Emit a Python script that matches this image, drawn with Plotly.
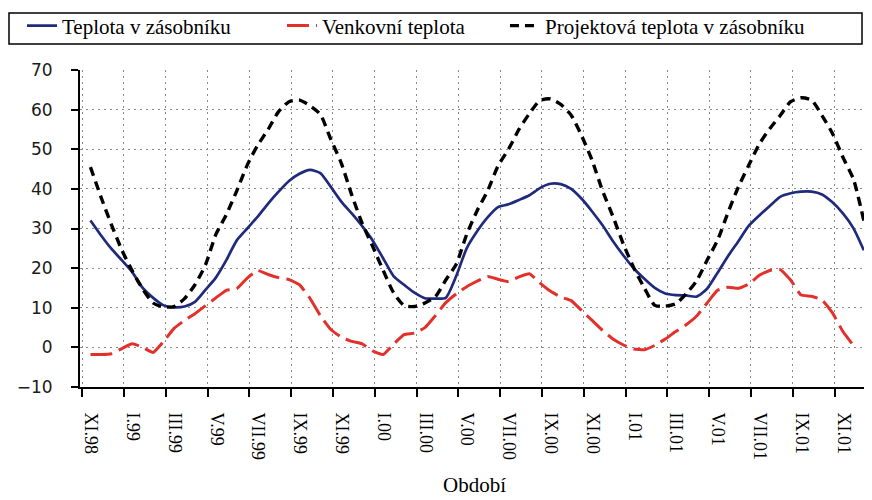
import plotly.graph_objects as go

# ---- data -------------------------------------------------------------
tick_months = [0, 2, 4, 6, 8, 10, 12, 14, 16, 18, 20, 22, 24, 26, 28, 30, 32, 34, 36]
tick_labels = ["XI.98", "I.99", "III.99", "V.99", "VII.99", "IX.99", "XI.99",
               "I.00", "III.00", "V.00", "VII.00", "IX.00", "XI.00",
               "I.01", "III.01", "V.01", "VII.01", "IX.01", "XI.01"]

# time in months since XI.98 (half-month samples)
months = [round(0.4 + 0.5 * k, 2) for k in range(75)]

teplota_zasobnik = [32.0, 28.3, 24.9, 22.0, 19.0, 15.0, 12.5, 10.6, 10.1, 10.3,
                    11.5, 14.5, 17.6, 22.0, 27.0, 30.0, 33.0, 36.3, 39.3, 42.0,
                    43.8, 44.8, 44.0, 40.5, 36.8, 33.8, 30.6, 27.0, 22.5, 18.0,
                    15.8, 13.8, 12.4, 12.3, 12.5, 18.0, 25.0, 29.3, 32.8, 35.4,
                    36.1, 37.2, 38.4, 40.2, 41.3, 41.2, 40.0, 37.5, 34.3, 30.8,
                    26.8, 23.2, 19.9, 17.3, 15.0, 13.6, 13.2, 13.1, 12.8, 14.8,
                    18.8, 23.0, 26.8, 30.7, 33.3, 35.7, 38.0, 38.9, 39.3, 39.3,
                    38.6, 36.6, 33.8, 30.1, 24.5]

venkovni_teplota = [-1.8, -1.8, -1.6, -0.3, 0.9, 0.0, -1.3, 1.5, 4.8, 6.8,
                    8.5, 10.5, 12.5, 14.4, 14.8, 17.5, 19.4, 18.4, 17.6, 17.1,
                    15.8, 12.4, 8.0, 4.5, 2.6, 1.5, 0.9, -0.9, -1.8, 0.8,
                    3.2, 3.6, 5.0, 8.0, 11.3, 13.5, 15.3, 16.7, 17.9, 17.2,
                    16.6, 17.8, 18.6, 16.3, 14.2, 12.7, 11.8, 9.3, 6.8, 4.3,
                    2.1, 0.6, -0.4, -0.6, 0.5, 2.1, 4.0, 5.7, 7.9, 11.2,
                    14.4, 15.2, 14.9, 16.0, 18.2, 19.4, 19.6, 17.0, 13.2, 12.9,
                    12.0, 8.7, 4.0, 0.5]

projektova_teplota = [45.5, 38.0, 31.0, 24.6, 19.3, 14.7, 11.2, 10.2, 10.3, 12.3,
                      15.8, 20.8, 28.5, 33.5, 39.5, 46.0, 51.0, 55.0, 59.5, 62.0,
                      62.4, 61.0, 58.8, 52.5, 46.5, 38.5, 31.3, 25.5, 19.5, 13.8,
                      10.6, 10.3, 11.2, 12.8, 17.0, 21.0, 28.5, 34.5, 39.5, 45.8,
                      50.0, 55.0, 59.0, 62.3, 62.7, 61.3, 58.6, 53.4, 47.2, 39.5,
                      33.0, 26.0, 20.0, 15.0, 10.6, 10.4, 11.0, 13.5, 16.8, 22.0,
                      27.0, 34.0, 40.5, 46.0, 51.3, 55.2, 58.5, 62.0, 63.0, 62.4,
                      58.5, 54.0, 48.0, 42.5, 32.0]

names = ["Teplota v zásobníku", "Venkovní teplota", "Projektová teplota v zásobníku"]

# ---- figure -----------------------------------------------------------
SERIF = "Liberation Serif"
SANS = "DejaVu Sans"

fig = go.Figure()
fig.add_trace(go.Scatter(
    x=months, y=teplota_zasobnik, name=names[0], mode="lines",
    line=dict(color="#1f2a7c", width=2.7, shape="spline", smoothing=0.6),
    legend="legend"))
fig.add_trace(go.Scatter(
    x=months[:len(venkovni_teplota)], y=venkovni_teplota, name=names[1], mode="lines",
    line=dict(color="#e3302b", width=3, dash="22px,7px", shape="spline", smoothing=0.4),
    legend="legend2"))
fig.add_trace(go.Scatter(
    x=months, y=projektova_teplota, name=names[2], mode="lines",
    line=dict(color="#000000", width=3.4, dash="9px,6px", shape="spline", smoothing=0.6),
    legend="legend3"))

grid = dict(showgrid=True, gridcolor="#8a8a8a", gridwidth=1.4, griddash="2px,4px")

# the page body adds an 8px offset; the figure is sized to fill the rest of the window
fig.update_layout(
    width=864, height=492,
    margin=dict(l=72, r=4, t=62, b=113, autoexpand=False),
    paper_bgcolor="white", plot_bgcolor="white",
    font=dict(family=SERIF, color="black"),
    xaxis=dict(
        range=[-0.1, 37.6], tickmode="array", tickvals=tick_months, ticktext=tick_labels,
        tickangle=90, tickfont=dict(family=SERIF, size=18, color="black"),
        showline=True, linecolor="black", linewidth=2,
        ticks="outside", ticklen=8, tickwidth=1.5, tickcolor="black",
        zeroline=False, ticklabelstandoff=12, ticklabelshift=9, automargin=False, **grid),
    yaxis=dict(
        range=[-10, 70], dtick=10, tick0=0,
        tickfont=dict(family=SANS, size=17, color="#1a1a1a"),
        showline=True, linecolor="black", linewidth=2,
        ticks="outside", ticklen=7, tickwidth=1.5, tickcolor="black",
        zeroline=False, ticklabelstandoff=15, automargin=False, **grid),
    showlegend=True,
)

leg_common = dict(orientation="h", yref="paper", y=1.139, yanchor="middle",
                  xanchor="left", bgcolor="rgba(0,0,0,0)", borderwidth=0,
                  font=dict(family=SERIF, size=21, color="black"))
fig.update_layout(
    legend=dict(x=-0.0736, **leg_common),
    legend2=dict(x=0.2563, **leg_common),
    legend3=dict(x=0.5393, **leg_common),
)

# legend frame
fig.add_shape(type="rect", xref="paper", yref="paper",
              x0=-0.0901, x1=0.9924, y0=1.082, y1=1.180,
              line=dict(color="black", width=1.5), fillcolor="rgba(0,0,0,0)", layer="below")

fig.add_annotation(text="Období", xref="paper", yref="paper", x=0.5, y=-0.31,
                   xanchor="center", yanchor="middle", showarrow=False,
                   font=dict(family=SERIF, size=21, color="black"))

fig.write_html("out.html")
